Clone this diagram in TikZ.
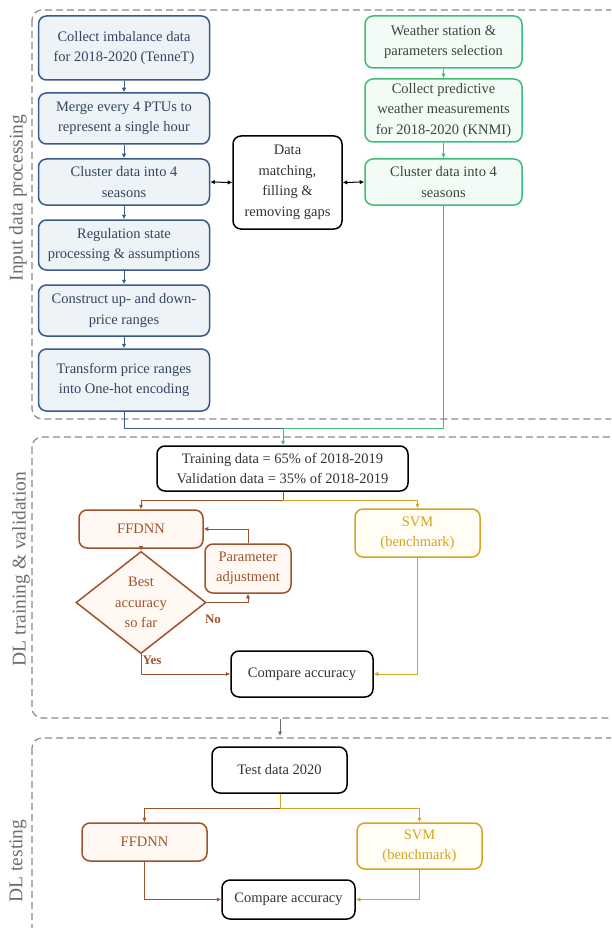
\documentclass[tikz,border=0pt]{standalone}
\usepackage{fontspec}
\setmainfont{Liberation Serif}
\usetikzlibrary{arrows.meta,shapes.geometric}
\definecolor{bluec}{HTML}{3A5A8C}
\definecolor{bluef}{HTML}{EEF3F8}
\definecolor{bluet}{HTML}{34445F}
\definecolor{greenc}{HTML}{3DBE78}
\definecolor{greenf}{HTML}{F2FBF5}
\definecolor{greent}{HTML}{3A473C}
\definecolor{brownc}{HTML}{A0522D}
\definecolor{brownf}{HTML}{FFF8F3}
\definecolor{goldc}{HTML}{D4A520}
\definecolor{goldf}{HTML}{FFFDF4}
\definecolor{grayc}{HTML}{8A8A8A}
\tikzset{
  base/.style={rounded corners=8pt, line width=1.5pt, align=center, inner sep=2pt,
    font=\fontsize{14.5}{20.5}\selectfont},
  bluebox/.style={base, draw=bluec, fill=bluef, text=bluet},
  greenbox/.style={base, draw=greenc, fill=greenf, text=greent},
  blackbox/.style={base, draw=black, fill=white, text=black!80},
  brownbox/.style={base, draw=brownc, fill=brownf, text=brownc},
  goldbox/.style={base, draw=goldc, fill=goldf, text=goldc},
  tip/.style={-{Latex[length=4.5pt,width=4.5pt]}},
  dtip/.style={{Latex[length=4.5pt,width=4.5pt]}-{Latex[length=4.5pt,width=4.5pt]}},
  group/.style={draw=grayc, line width=1.2pt, dash pattern=on 7pt off 4pt, rounded corners=10pt},
  grouplabel/.style={rotate=90, text=grayc!80!black, font=\fontsize{19.5}{22}\selectfont},
  conn/.style={line width=1pt},
}
\begin{document}
\begin{tikzpicture}[x=1pt,y=-1pt]
\useasboundingbox (0,0) rectangle (611,928);
\clip (0,0) rectangle (611,928);
\fill[white] (0,0) rectangle (611,928);
% groups
\draw[group] (32,10) rectangle (640,419);
\draw[group] (32,437) rectangle (640,718);
\draw[group] (32,738) rectangle (640,960);
\node[grouplabel] (l1) at (18,198) {Input data processing};
\node[grouplabel] (l2) at (21,569) {DL training \& validation};
\node[grouplabel] (l3) at (18,861) {DL testing};
% left column
\node[bluebox, minimum width=171pt, minimum height=64pt] (b1) at (124,48) {Collect imbalance data\\for 2018-2020 (TenneT)};
\node[bluebox, minimum width=171pt, minimum height=51pt] (b2) at (124,118.5) {Merge every 4 PTUs to\\represent a single hour};
\node[bluebox, minimum width=171pt, minimum height=46pt] (b3) at (124,182) {Cluster data into 4\\seasons};
\node[bluebox, minimum width=171pt, minimum height=50pt] (b4) at (124,245) {Regulation state\\processing \& assumptions};
\node[bluebox, minimum width=171pt, minimum height=51pt] (b5) at (124,310.5) {Construct up- and down-\\price ranges};
\node[bluebox, minimum width=171pt, minimum height=62pt] (b6) at (124,380) {Transform price ranges\\into One-hot encoding};
\foreach \a/\b in {b1/b2,b2/b3,b3/b4,b4/b5,b5/b6}
  \draw[conn, bluec, tip] (\a) -- (\b);
% middle
\node[blackbox, minimum width=109pt, minimum height=93pt] (dm) at (287.5,182.5) {Data\\matching,\\filling \&\\removing gaps};
% right column
\node[greenbox, minimum width=157pt, minimum height=52pt] (g1) at (443.5,42) {Weather station \&\\parameters selection};
\node[greenbox, minimum width=157pt, minimum height=63pt] (g2) at (443.5,110.5) {Collect predictive\\weather measurements\\for 2018-2020 (KNMI)};
\node[greenbox, minimum width=157pt, minimum height=46pt] (g3) at (443.5,182) {Cluster data into 4\\seasons};
\draw[conn, greenc, tip] (g1) -- (g2);
\draw[conn, greenc, tip] (g2) -- (g3);
\draw[conn, black, dtip] (b3.east) -- (dm.west);
\draw[conn, black, dtip] (dm.east) -- (g3.west);
% training
\node[blackbox, minimum width=251pt, minimum height=45pt] (tr) at (282.5,468.5) {Training data = 65\% of 2018-2019\\Validation data = 35\% of 2018-2019};
\coordinate (jn) at (283,428);
\draw[conn, bluec] (b6.south) |- (jn);
\draw[conn, greenc] (g3.south) |- (jn);
\draw[conn, greenc, tip] (jn) -- (tr.north -| jn);
\node[brownbox, minimum width=124pt, minimum height=38pt] (ff) at (141,529) {FFDNN};
\node[brownbox, minimum width=86pt, minimum height=49pt] (pa) at (248,568.5) {Parameter\\adjustment};
\node[diamond, draw=brownc, fill=brownf, line width=1.5pt, minimum width=130pt, minimum height=79pt, inner sep=0pt, align=center, text=brownc, font=\fontsize{14.5}{20.5}\selectfont] (dia) at (141,602.5) {Best\\accuracy\\so far};
\node[goldbox, minimum width=125pt, minimum height=48pt] (svm) at (417.5,533) {SVM\\(benchmark)};
\node[blackbox, minimum width=142pt, minimum height=46pt] (ca) at (302,674) {Compare accuracy};
\coordinate (sp) at (283,500);
\draw[conn, brownc] (tr.south -| sp) -- (sp);
\draw[conn, brownc, tip] (sp) -| (ff.north);
\draw[conn, goldc, tip] (sp) -| (svm.north);
\draw[conn, brownc, tip] (ff) -- (dia);
\draw[conn, brownc, tip] (pa.north) |- (ff.east);
\draw[conn, brownc, tip] (dia.east) -| (pa.south);
\draw[conn, brownc, tip] (dia.south) |- (ca.west);
\draw[conn, goldc, tip] (svm.south) |- (ca.east);
\node[text=brownc, font=\fontsize{13}{15}\selectfont\bfseries] (no) at (213,619) {No};
\node[text=brownc, font=\fontsize{13}{15}\selectfont\bfseries] (yes) at (152,660) {Yes};
% between groups
\coordinate (ga) at (280,719);
\coordinate (gb) at (280,736);
\draw[conn, grayc!80!black, tip] (ga) -- (gb);
% testing
\node[blackbox, minimum width=135pt, minimum height=46pt] (td) at (279.5,770) {Test data 2020};
\node[brownbox, minimum width=125pt, minimum height=38pt] (ff2) at (144.5,842) {FFDNN};
\node[goldbox, minimum width=125pt, minimum height=46pt] (svm2) at (419.5,846) {SVM\\(benchmark)};
\node[blackbox, minimum width=133pt, minimum height=39pt] (ca2) at (288.5,899.5) {Compare accuracy};
\coordinate (sp2) at (280,808);
\draw[conn, goldc] (td.south -| sp2) -- (sp2);
\draw[conn, brownc, tip] (sp2) -| (ff2.north);
\draw[conn, goldc, tip] (sp2) -| (svm2.north);
\draw[conn, brownc, tip] (ff2.south) |- (ca2.west);
\draw[conn, goldc, tip] (svm2.south) |- (ca2.east);
\end{tikzpicture}
\end{document}
